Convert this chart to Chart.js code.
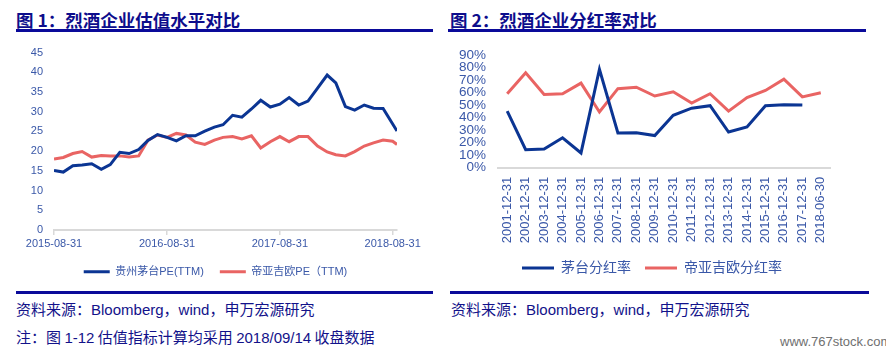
<!DOCTYPE html>
<html>
<head>
<meta charset="utf-8">
<script src="https://cdn.jsdelivr.net/npm/chart.js@4.4.1/dist/chart.umd.min.js"></script>
<style>
  body { margin: 0; background: #fff; }
  #page { position: relative; width: 886px; height: 352px; overflow: hidden; background: #fff; }
  .title { position: absolute; top: 10px; font: bold 17.5px "Noto Sans CJK SC", sans-serif; line-height: 20px; color: #0d0d8c; white-space: nowrap; }
  .rule { position: absolute; height: 3px; background: #0a0a9a; }
  .foot { position: absolute; font: 15px "Noto Sans CJK SC", "Liberation Sans", sans-serif; line-height: 20px; color: #12128a; white-space: nowrap; }
  .foot span { font-family: "Liberation Sans", sans-serif; }
  #mark { position: absolute; left: 780px; top: 334px; font: 13px "Liberation Sans", sans-serif; color: #707070; }
  canvas { position: absolute; }
</style>
</head>
<body>
<div id="page">
  <div class="title" style="left:16px">图 1：烈酒企业估值水平对比</div>
  <div class="rule" style="left:16px; width:417px; top:29px"></div>
  <div class="title" style="left:450px">图 2：烈酒企业分红率对比</div>
  <div class="rule" style="left:448px; width:418px; top:29px"></div>

  <canvas id="peChart" width="440" height="255" style="left:0; top:35px"></canvas>
  <canvas id="divChart" width="446" height="255" style="left:440px; top:35px"></canvas>

  <div class="rule" style="left:16px; width:417px; top:291px; height:2.5px"></div>
  <div class="rule" style="left:450px; width:419px; top:291px; height:2.5px"></div>
  <div class="foot" style="left:16px; top:299px">资料来源：<span>Bloomberg</span>，<span>wind</span>，申万宏源研究</div>
  <div class="foot" style="left:451px; top:299px">资料来源：<span>Bloomberg</span>，<span>wind</span>，申万宏源研究</div>
  <div class="foot" style="left:16px; top:327px">注：图 <span>1-12</span> 估值指标计算均采用 <span>2018/09/14</span> 收盘数据</div>
  <div id="mark">www.767stock.com</div>
</div>

<script>
// 图1 data: month-end PE (TTM), 2015-08-31 .. 2018-08-31, then 2018-09-14
const peTickLabels = ["2015-08-31", "2016-08-31", "2017-08-31", "2018-08-31"];
const moutaiPE = [15.1, 14.7, 16.3, 16.5, 16.8, 15.4, 16.6, 19.7, 19.4, 20.4,
  22.7, 24.2, 23.5, 22.6, 23.9, 23.9, 25.1, 26.1, 26.7, 29.1,
  28.6, 30.7, 32.9, 31.2, 31.9, 33.6, 31.7, 32.7, 36.0, 39.3,
  37.3, 31.3, 30.4, 31.7, 30.9, 30.8, 26.9, 25.1];
const diageoPE = [18.0, 18.4, 19.4, 19.9, 18.5, 18.9, 18.8, 18.8, 18.5, 18.8,
  22.8, 24.1, 23.5, 24.5, 24.1, 22.3, 21.7, 22.8, 23.5, 23.7,
  23.1, 23.9, 20.8, 22.4, 23.7, 22.4, 23.7, 23.7, 21.3, 19.8,
  19.1, 18.8, 19.9, 21.3, 22.1, 22.8, 22.5, 21.7];

// 图2 data: payout ratio (%)
const payoutDates = ["2001-12-31", "2002-12-31", "2003-12-31", "2004-12-31", "2005-12-31",
  "2006-12-31", "2007-12-31", "2008-12-31", "2009-12-31", "2010-12-31", "2011-12-31",
  "2012-12-31", "2013-12-31", "2014-12-31", "2015-12-31", "2016-12-31", "2017-12-31", "2018-06-30"];
const moutaiPayout = [45.2, 14.4, 14.9, 23.9, 11.8, 78.7, 27.8, 28.0, 25.7, 41.9,
  47.6, 49.6, 28.5, 32.6, 49.6, 50.4, 50.1, null];
const diageoPayout = [59.1, 75.8, 58.6, 59.1, 67.6, 44.5, 63.2, 64.3, 57.3, 60.7,
  51.7, 59.1, 45.2, 56.0, 61.7, 70.7, 56.6, 59.9];

const BLUE = "#0b3593";
const RED = "#e96463";
const TICK = "#3a58a8";
const AXIS = "#d9d9d9";
const NUMFONT = '"Liberation Sans", "Noto Sans CJK SC", sans-serif';

// month-end dates for the PE series, plus the last close
const peDates = [];
for (let k = 0; k <= 36; k++) {
  peDates.push(new Date(Date.UTC(2015, 8 + k, 0)).toISOString().slice(0, 10));
}
peDates.push("2018-09-14");

const dayOf = s => (Date.parse(s) - Date.parse(peDates[0])) / 86400000;

// nudge the legend sideways after layout
const shiftLegend = {
  id: "shiftLegend",
  afterLayout(chart, args, opts) {
    const lg = chart.legend;
    if (lg && opts.dx) { lg.left += opts.dx; lg.right += opts.dx; }
  },
};

new Chart(document.getElementById("peChart"), {
  type: "line",
  data: {
    datasets: [
      {
        label: "贵州茅台PE(TTM)",
        data: peDates.map((d, i) => ({ x: dayOf(d), y: moutaiPE[i] })),
        borderColor: BLUE,
        backgroundColor: BLUE,
        borderWidth: 3,
        pointRadius: 0,
      },
      {
        label: "帝亚吉欧PE（TTM)",
        data: peDates.map((d, i) => ({ x: dayOf(d), y: diageoPE[i] })),
        borderColor: RED,
        backgroundColor: RED,
        borderWidth: 3,
        pointRadius: 0,
      },
    ],
  },
  plugins: [shiftLegend],
  options: {
    responsive: false,
    animation: false,
    layout: { padding: { left: 22, right: 43, top: 13, bottom: 2.8 } },
    scales: {
      x: {
        type: "linear",
        min: 0,
        max: dayOf(peDates[peDates.length - 1]),
        afterBuildTicks: s => { s.ticks = peTickLabels.map(d => ({ value: dayOf(d) })); },
        afterFit: s => { s.height = 20.2; },
        ticks: {
          autoSkip: false,
          maxRotation: 0,
          padding: 2,
          color: TICK,
          font: { family: NUMFONT, size: 11 },
          callback: v => peTickLabels.find(d => dayOf(d) === v) || "",
        },
        grid: { drawOnChartArea: false, drawTicks: true, tickLength: 5, color: AXIS, lineWidth: 1.5 },
        border: { display: true, color: AXIS, width: 2 },
      },
      y: {
        min: 0,
        max: 45,
        afterFit: s => { s.width = 32; },
        ticks: { stepSize: 5, autoSkip: false, padding: 11, color: TICK, font: { family: NUMFONT, size: 11 } },
        grid: { display: false, drawTicks: false },
        border: { display: false },
      },
    },
    plugins: {
      shiftLegend: { dx: 6 },
      legend: {
        position: "bottom",
        labels: {
          usePointStyle: true,
          pointStyle: "line",
          pointStyleWidth: 26,
          padding: 16,
          color: TICK,
          font: { family: NUMFONT, size: 11 },
        },
      },
      tooltip: { enabled: false },
    },
  },
});

new Chart(document.getElementById("divChart"), {
  type: "line",
  data: {
    labels: payoutDates,
    datasets: [
      {
        label: "茅台分红率",
        data: moutaiPayout,
        borderColor: BLUE,
        backgroundColor: BLUE,
        borderWidth: 3,
        pointRadius: 0,
      },
      {
        label: "帝亚吉欧分红率",
        data: diageoPayout,
        borderColor: RED,
        backgroundColor: RED,
        borderWidth: 3,
        pointRadius: 0,
      },
    ],
  },
  plugins: [shiftLegend],
  options: {
    responsive: false,
    animation: false,
    layout: { padding: { left: 10, right: 56, top: 15, bottom: 5 } },
    scales: {
      x: {
        offset: true,
        afterFit: s => { s.height = 79.3; },
        ticks: {
          autoSkip: false,
          minRotation: 90,
          maxRotation: 90,
          padding: 9,
          color: TICK,
          font: { family: NUMFONT, size: 13 },
        },
        grid: { display: false, drawTicks: false },
        border: { display: true, color: AXIS, width: 2 },
      },
      y: {
        min: 0,
        max: 90,
        afterFit: s => { s.width = 48; },
        ticks: {
          stepSize: 10,
          autoSkip: false,
          padding: 12,
          color: TICK,
          font: { family: NUMFONT, size: 13.5 },
          callback: v => v + "%",
        },
        grid: { display: false, drawTicks: false },
        border: { display: false },
      },
    },
    plugins: {
      shiftLegend: { dx: 12 },
      legend: {
        position: "bottom",
        labels: {
          usePointStyle: true,
          pointStyle: "line",
          pointStyleWidth: 32,
          padding: 14,
          color: TICK,
          font: { family: NUMFONT, size: 14 },
        },
      },
      tooltip: { enabled: false },
    },
  },
});
</script>
</body>
</html>
